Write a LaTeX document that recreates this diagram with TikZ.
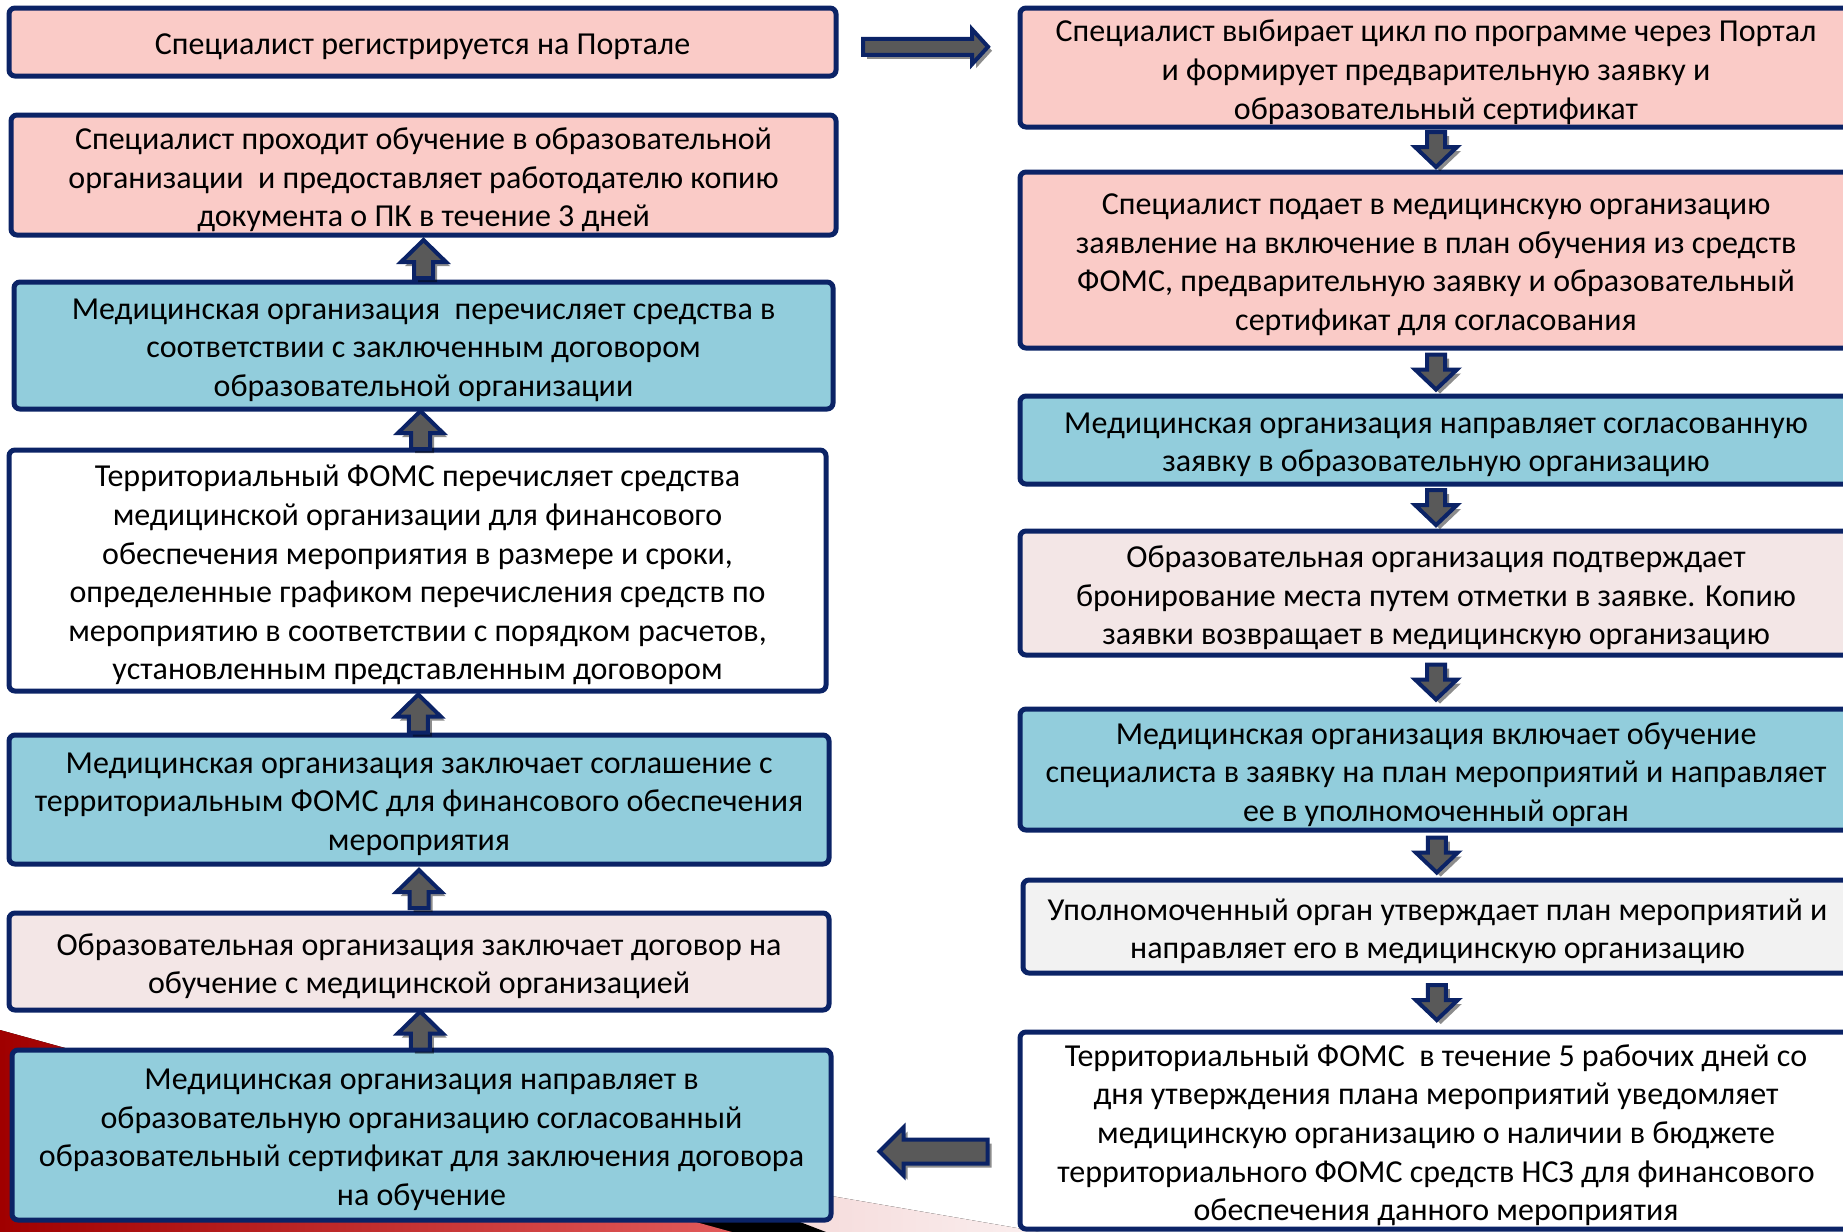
\documentclass[tikz,border=0pt]{standalone}
\usepackage{fontspec}
\setmainfont{Carlito}
\usetikzlibrary{calc,shadows}
\definecolor{navy}{HTML}{0B2366}
\definecolor{pinkbox}{HTML}{FACBC7}
\definecolor{bluebox}{HTML}{92CDDC}
\definecolor{lightpink}{HTML}{F3E6E6}
\definecolor{graybox}{HTML}{F2F2F2}
\definecolor{arrgray}{HTML}{595959}
\definecolor{wedgepink}{HTML}{F2CFCF}
\definecolor{darkred}{HTML}{A00000}
\definecolor{lightred}{HTML}{E25A5A}
\tikzset{
  box/.style={draw=navy, line width=2.5pt, rounded corners=3pt, inner sep=0pt},
  boxtext/.style={inner sep=0pt, align=center, font=\fontsize{16}{19.3}\selectfont, text=black},
  pinkb/.style={box, fill=pinkbox},
  blueb/.style={box, fill=bluebox},
  lpinkb/.style={box, fill=lightpink},
  grayb/.style={box, fill=graybox},
  whiteb/.style={box, fill=white},
  barrow/.style={fill=arrgray, draw=navy, line width=2pt, line join=miter,
    drop shadow={shadow xshift=2pt, shadow yshift=-2pt, opacity=0.45, fill=black}},
}
\newcommand\bx[7]{\node[#6, minimum width={(#4-#2)*0.5pt}, minimum height={(#5-#3)*0.5pt}] (#1) at ({(#2+#4)/2},{(#3+#5)/2}) {};
\node[boxtext] (#1t) at ([yshift=-2.4pt]#1.center) {#7};}
\newcommand\downarr[1]{\path[barrow,shift={(#1)}] (-9,-17.5) -- (9,-17.5) -- (9,-2.5) -- (21,-2.5) -- (0,17.5) -- (-21,-2.5) -- (-9,-2.5) -- cycle;}
\newcommand\uparr[1]{\path[barrow,shift={(#1)}] (-9.5,19.5) -- (9.5,19.5) -- (9.5,3.5) -- (22.5,3.5) -- (0,-18.5) -- (-22.5,3.5) -- (-9.5,3.5) -- cycle;}
\begin{document}
\begin{tikzpicture}[x=0.5pt,y=-0.5pt]
\useasboundingbox (0,0) rectangle (1843,1232);
\clip (0,0) rectangle (1843,1232);
% background decoration
\fill[left color=wedgepink, right color=wedgepink!35] (640,1163) -- (1040,1232) -- (640,1232) -- cycle;
\fill[black] (560,1130) -- (826,1232) -- (560,1232) -- cycle;
\fill[left color=darkred, right color=lightred] (0,1030) -- (732,1232) -- (0,1232) -- cycle;
% left column
\bx{L1}{9}{8}{836}{76}{pinkb}{Специалист регистрируется на Портале}
\bx{L2}{11}{115}{836}{235}{pinkb}{Специалист проходит обучение в образовательной\\организации \ и предоставляет работодателю копию\\документа о ПК в течение 3 дней}
\bx{L3}{14}{282}{833}{409}{blueb}{Медицинская организация \ перечисляет средства в\\соответствии с заключенным договором\\образовательной организации}
\bx{L4}{9}{450}{826}{691}{whiteb}{Территориальный ФОМС перечисляет средства\\медицинской организации для финансового\\обеспечения мероприятия в размере и сроки,\\определенные графиком перечисления средств по\\мероприятию в соответствии с порядком расчетов,\\установленным представленным договором}
\bx{L5}{9}{735}{829}{864}{blueb}{Медицинская организация заключает соглашение с\\территориальным ФОМС для финансового обеспечения\\мероприятия}
\bx{L6}{9}{913}{829}{1010}{lpinkb}{Образовательная организация заключает договор на\\обучение с медицинской организацией}
\bx{L7}{12}{1050}{831}{1220}{blueb}{Медицинская организация направляет в\\образовательную организацию согласованный\\образовательный сертификат для заключения договора\\на обучение}
% right column
\bx{R1}{1020}{8}{1852}{127}{pinkb}{Специалист выбирает цикл по программе через Портал\\и формирует предварительную заявку и\\образовательный сертификат}
\bx{R2}{1020}{172}{1852}{348}{pinkb}{Специалист подает в медицинскую организацию\\заявление на включение в план обучения из средств\\ФОМС, предварительную заявку и образовательный\\сертификат для согласования}
\bx{R3}{1020}{396}{1852}{484}{blueb}{Медицинская организация направляет согласованную\\заявку в образовательную организацию}
\bx{R4}{1020}{531}{1852}{655}{lpinkb}{Образовательная организация подтверждает\\бронирование места путем отметки в заявке. Копию\\заявки возвращает в медицинскую организацию}
\bx{R5}{1020}{709}{1852}{830}{blueb}{Медицинская организация включает обучение\\специалиста в заявку на план мероприятий и направляет\\ее в уполномоченный орган}
\bx{R6}{1023}{880}{1852}{973}{grayb}{Уполномоченный орган утверждает план мероприятий и\\направляет его в медицинскую организацию}
\bx{R7}{1020}{1032}{1852}{1229}{whiteb}{Территориальный ФОМС \ в течение 5 рабочих дней со\\дня утверждения плана мероприятий уведомляет\\медицинскую организацию о наличии в бюджете\\территориального ФОМС средств НСЗ для финансового\\обеспечения данного мероприятия}
% connectors (block arrows)
\coordinate (a12) at ($(R1.south)!0.5!(R2.north)$);
\coordinate (a23) at ($(R2.south)!0.5!(R3.north)$);
\coordinate (a34) at ($(R3.south)!0.5!(R4.north)$);
\coordinate (a45) at ($(R4.south)!0.5!(R5.north)$);
\coordinate (a56) at ($(R5.south)!0.5!(R6.north)$);
\coordinate (a67) at ($(R6.south)!0.5!(R7.north)$);
\downarr{a12}\downarr{a23}\downarr{a34}\downarr{a45}\downarr{a56}\downarr{a67}
\coordinate (b23) at ($(L2.south)!0.5!(L3.north)$);
\coordinate (b34) at ($(L3.south)!0.5!(L4.north)$);
\coordinate (b45) at ($(L4.south)!0.5!(L5.north)$);
\coordinate (b56) at ($(L5.south)!0.5!(L6.north)$);
\coordinate (b67) at ($(L6.south)!0.5!(L7.north)$);
\uparr{b23}\uparr{b34}\uparr{b45}\uparr{b56}\uparr{b67}
% horizontal arrows
\coordinate (h1) at ($(L1.east)!0.5!(R1.west)+(0,-8)$);
\path[barrow,shift={(h1)}] (-65,-8) -- (44,-8) -- (44,-17.5) -- (60,0) -- (44,17.5) -- (44,8) -- (-65,8) -- cycle;
\coordinate (h2) at ($(L7.east |- R7.center)!0.5!(R7.west)+(0,21)$);
\path[barrow,shift={(h2)}] (62,-12) -- (-22,-12) -- (-22,-24) -- (-46,0) -- (-22,24) -- (-22,12) -- (62,12) -- cycle;
\end{tikzpicture}
\end{document}
